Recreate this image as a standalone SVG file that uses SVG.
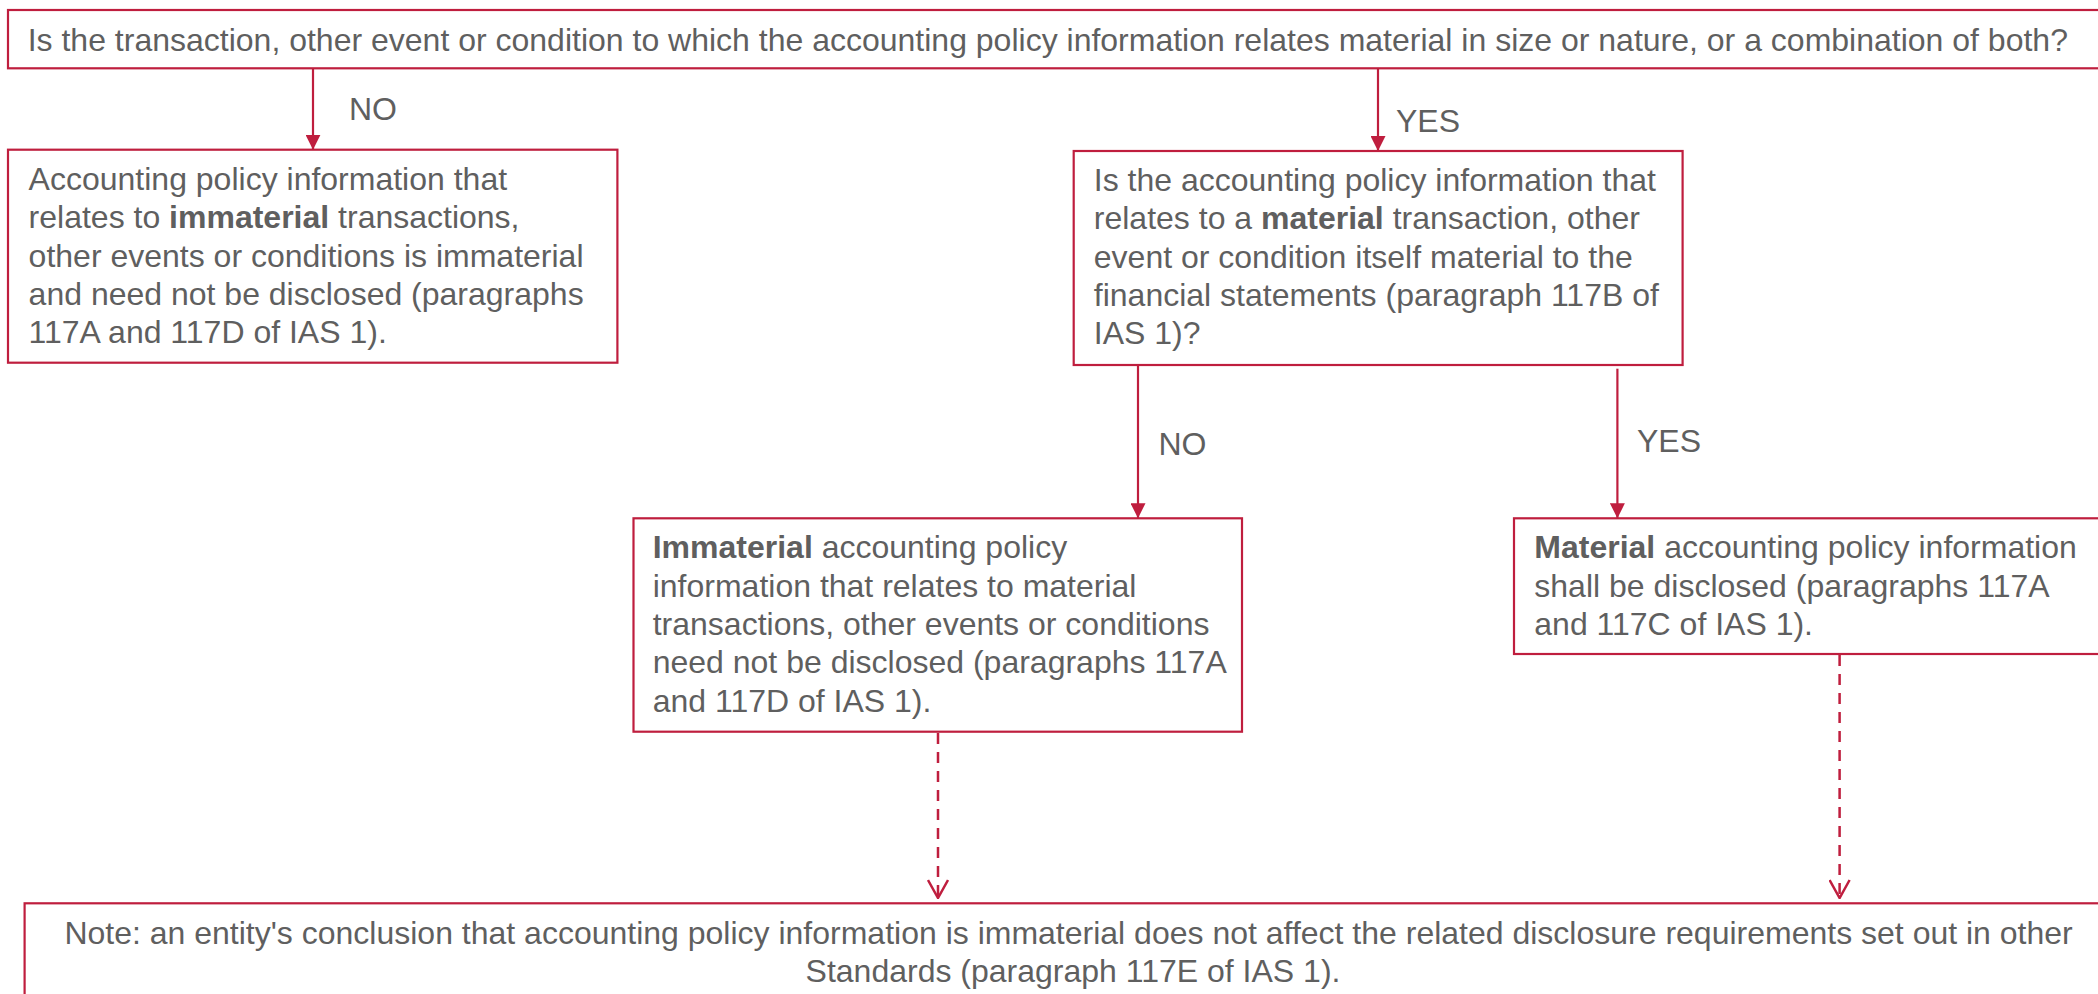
<svg xmlns="http://www.w3.org/2000/svg" width="2098" height="994" viewBox="0 0 2098 994">
  <style>
    .box { fill: #ffffff; stroke: #BF1E3E; stroke-width: 2.2; }
    .txt { font-family: "Liberation Sans", Arial, sans-serif; font-size: 32px; fill: #5f5f5f; }
    .b { font-weight: bold; }
    .solid { stroke: #BF1E3E; stroke-width: 2.2; fill: none; }
    .dash { stroke: #BF1E3E; stroke-width: 2.5; fill: none; stroke-dasharray: 11 8; }
  </style>
  <defs>
    <marker id="head" viewBox="0 0 15 15" refX="15" refY="7.5" markerWidth="15" markerHeight="15" markerUnits="userSpaceOnUse" orient="auto">
      <path d="M0,0 L15,7.5 L0,15 Z" fill="#BF1E3E"/>
    </marker>
    <marker id="openhead" viewBox="0 0 20 22" refX="19" refY="11" markerWidth="20" markerHeight="22" markerUnits="userSpaceOnUse" orient="auto">
      <path d="M1,1 L19,11 L1,21" fill="none" stroke="#BF1E3E" stroke-width="2.5"/>
    </marker>
  </defs>

  <!-- connectors -->
  <g id="connectors">
    <line class="solid" x1="313" y1="68.3" x2="313" y2="149.7" marker-end="url(#head)"/>
    <line class="solid" x1="1378" y1="68.3" x2="1378" y2="151" marker-end="url(#head)"/>
    <line class="solid" x1="1138" y1="365" x2="1138" y2="518.3" marker-end="url(#head)"/>
    <line class="solid" x1="1617.4" y1="368.7" x2="1617.4" y2="518.3" marker-end="url(#head)"/>
    <line class="dash" x1="938" y1="733" x2="938" y2="898" marker-end="url(#openhead)"/>
    <line class="dash" x1="1839.6" y1="655" x2="1839.6" y2="898" marker-end="url(#openhead)"/>
    <text class="txt" x="349" y="120">NO</text>
    <text class="txt" x="1396" y="131.7">YES</text>
    <text class="txt" x="1158.5" y="455">NO</text>
    <text class="txt" x="1637" y="452.3">YES</text>
  </g>

  <!-- top question -->
  <g id="q-material-item">
    <rect class="box" x="8" y="10" width="2110" height="58.3"/>
    <text class="txt" x="27.7" y="50.7">Is the transaction, other event or condition to which the accounting policy information relates material in size or nature, or a combination of both?</text>
  </g>

  <!-- immaterial transaction outcome -->
  <g id="immaterial-item">
    <rect class="box" x="8" y="149.7" width="609.4" height="213"/>
    <text class="txt">
      <tspan x="28.6" y="190">Accounting policy information that</tspan>
      <tspan x="28.6" y="228.3">relates to <tspan class="b">immaterial</tspan> transactions,</tspan>
      <tspan x="28.6" y="266.7">other events or conditions is immaterial</tspan>
      <tspan x="28.6" y="305">and need not be disclosed (paragraphs</tspan>
      <tspan x="28.6" y="343.3">117A and 117D of IAS 1).</tspan>
    </text>
  </g>

  <!-- second question -->
  <g id="q-material-info">
    <rect class="box" x="1073.7" y="151" width="608.9" height="214"/>
    <text class="txt">
      <tspan x="1093.8" y="191">Is the accounting policy information that</tspan>
      <tspan x="1093.8" y="229.3">relates to a <tspan class="b">material</tspan> transaction, other</tspan>
      <tspan x="1093.8" y="267.7">event or condition itself material to the</tspan>
      <tspan x="1093.8" y="306">financial statements (paragraph 117B of</tspan>
      <tspan x="1093.8" y="344.3">IAS 1)?</tspan>
    </text>
  </g>

  <!-- immaterial information outcome -->
  <g id="immaterial-info">
    <rect class="box" x="633.5" y="518.3" width="608.5" height="213.4"/>
    <text class="txt">
      <tspan x="652.7" y="558.3"><tspan class="b">Immaterial</tspan> accounting policy</tspan>
      <tspan x="652.7" y="596.6">information that relates to material</tspan>
      <tspan x="652.7" y="634.9">transactions, other events or conditions</tspan>
      <tspan x="652.7" y="673.2">need not be disclosed (paragraphs 117A</tspan>
      <tspan x="652.7" y="711.5">and 117D of IAS 1).</tspan>
    </text>
  </g>

  <!-- material information outcome -->
  <g id="material-info">
    <rect class="box" x="1514" y="518.3" width="600" height="135.7"/>
    <text class="txt">
      <tspan x="1534.3" y="558.3"><tspan class="b">Material</tspan> accounting policy information</tspan>
      <tspan x="1534.3" y="596.6">shall be disclosed (paragraphs 117A</tspan>
      <tspan x="1534.3" y="634.9">and 117C of IAS 1).</tspan>
    </text>
  </g>

  <!-- note -->
  <g id="note">
    <rect class="box" x="24.6" y="903.3" width="2100" height="110"/>
    <text class="txt" text-anchor="middle">
      <tspan x="1073" y="943.5">Note: an entity's conclusion that accounting policy information is immaterial does not affect the related disclosure requirements set out in other</tspan>
      <tspan x="1073" y="981.7">Standards (paragraph 117E of IAS 1).</tspan>
    </text>
  </g>
</svg>
